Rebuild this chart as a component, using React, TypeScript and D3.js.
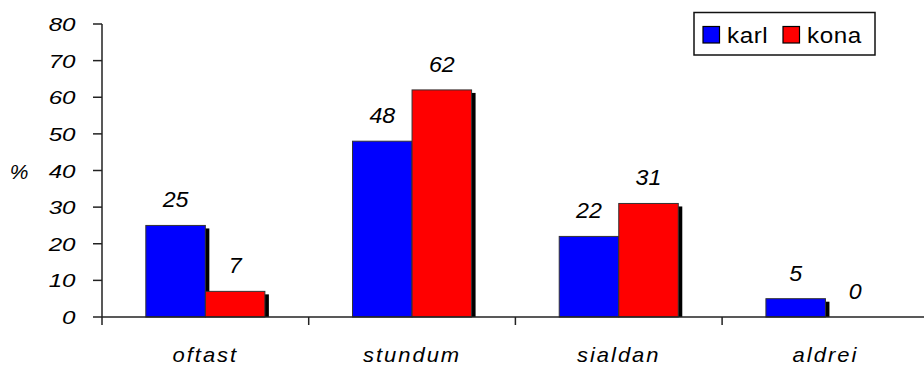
import React from "react";
import * as d3 from "d3";

const categories = ["oftast", "stundum", "sialdan", "aldrei"];
const seriesNames = ["karl", "kona"];
const karl = [25, 48, 22, 5];
const kona = [7, 62, 31, 0];
const yTicks = [0, 10, 20, 30, 40, 50, 60, 70, 80];
const colors = ["#0000ff", "#ff0000"];

const W = 924;
const H = 367;
const FONT = "'Liberation Sans', Arial, sans-serif";

function WideText(props: {
  x: number;
  y: number;
  sx?: number;
  size: number;
  anchor?: string;
  italic?: boolean;
  spacing?: number;
  children: React.ReactNode;
}) {
  const { x, y, sx = 1, size, anchor = "middle", italic = true, spacing = 0 } = props;
  return (
    <text
      transform={`translate(${x},${y}) scale(${sx},1)`}
      textAnchor={anchor}
      fontFamily={FONT}
      fontSize={size}
      fontStyle={italic ? "italic" : "normal"}
      letterSpacing={spacing}
      fill="#000"
    >
      {props.children}
    </text>
  );
}

export default function App() {
  const x0 = 102;
  const band = 206.7;
  const x = d3
    .scaleBand<string>()
    .domain(categories)
    .range([x0, x0 + band * categories.length])
    .paddingInner(0)
    .paddingOuter(0);
  const y = d3.scaleLinear().domain([0, 80]).range([317, 24]);
  const barW = x.bandwidth() * 0.288;
  const series = [karl, kona];
  const axisColor = "#222";

  return (
    <svg
      width={W}
      height={H}
      style={{ position: "absolute", left: 0, top: 0, background: "#fff" }}
    >
      {/* bars with drop shadows */}
      {categories.map((c, ci) => {
        const cx = (x(c) as number) + x.bandwidth() / 2;
        return series.map((vals, si) => {
          const v = vals[ci];
          const bx = cx - barW + si * barW;
          const top = y(v);
          const base = y(0);
          return (
            <g key={`${c}-${si}`}>
              {v > 0 && (
                <>
                  <rect
                    x={bx + 4}
                    y={top + 3}
                    width={barW}
                    height={base - top - 3}
                    fill="#000"
                  />
                  <rect
                    x={bx}
                    y={top}
                    width={barW}
                    height={base - top}
                    fill={colors[si]}
                    stroke="#333"
                    strokeWidth={1}
                  />
                </>
              )}
              <WideText x={bx + barW / 2} y={top - 18} size={21.5} sx={1.08}>
                {v}
              </WideText>
            </g>
          );
        });
      })}

      {/* y axis */}
      <line x1={x0} x2={x0} y1={y(80)} y2={325} stroke={axisColor} strokeWidth={1.5} />
      {yTicks.map((t) => (
        <g key={t}>
          <line x1={93} x2={x0} y1={y(t)} y2={y(t)} stroke={axisColor} strokeWidth={1.5} />
          <WideText x={75.5} y={y(t) + 7} size={18.3} sx={1.32} anchor="end">
            {t}
          </WideText>
        </g>
      ))}
      <WideText x={19} y={179} size={21}>
        %
      </WideText>

      {/* x axis */}
      <line x1={x0} x2={W} y1={y(0)} y2={y(0)} stroke={axisColor} strokeWidth={1.5} />
      {categories.slice(1).map((c) => (
        <line
          key={c}
          x1={x(c) as number}
          x2={x(c) as number}
          y1={y(0)}
          y2={325}
          stroke={axisColor}
          strokeWidth={1.5}
        />
      ))}
      {categories.map((c) => (
        <WideText
          key={c}
          x={(x(c) as number) + x.bandwidth() / 2}
          y={362}
          size={20}
          spacing={1.8}
          sx={1.1}
        >
          {c}
        </WideText>
      ))}

      {/* legend */}
      <rect x={694} y={12.5} width={181} height={42.5} fill="#fff" stroke="#111" strokeWidth={1.5} />
      {seriesNames.map((n, i) => {
        const lx = i === 0 ? 703 : 783;
        return (
          <g key={n}>
            <rect x={lx} y={26.5} width={16.5} height={16.5} fill={colors[i]} stroke="#000" strokeWidth={1.2} />
            <WideText x={lx + 24} y={43.3} size={22} anchor="start" italic={false} sx={1.1} spacing={0.5}>
              {n}
            </WideText>
          </g>
        );
      })}
    </svg>
  );
}
